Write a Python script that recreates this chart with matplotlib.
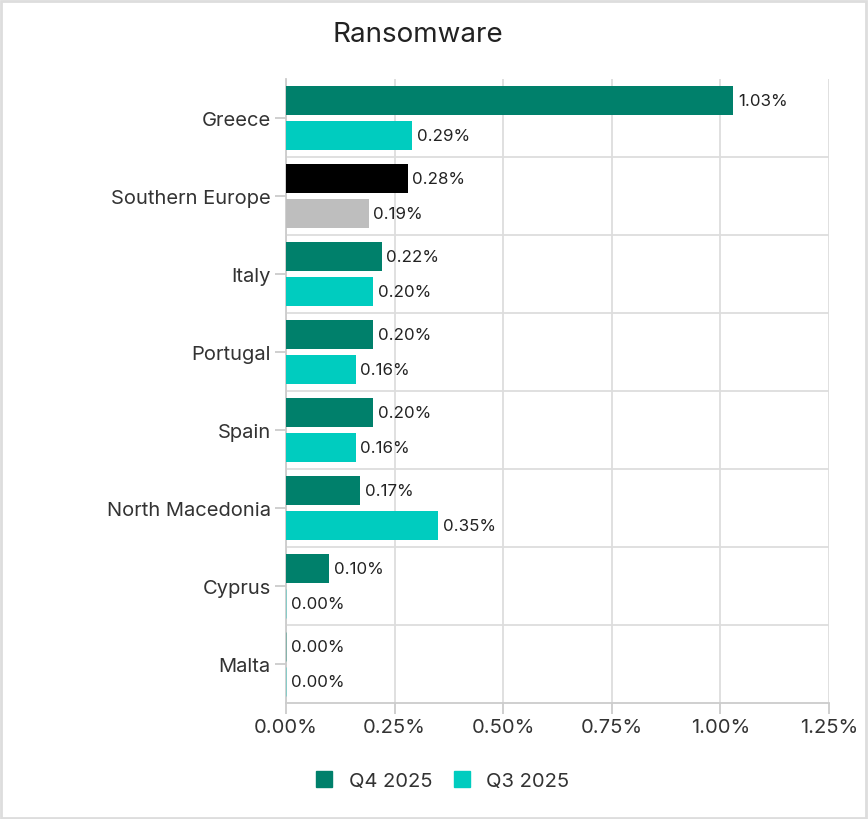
import matplotlib.pyplot as plt
import numpy as np
from matplotlib.patches import Rectangle
from matplotlib.lines import Line2D

plt.rcParams['font.family'] = ['Inter', 'DejaVu Sans']

countries = ["Greece", "Southern Europe", "Italy", "Portugal", "Spain",
             "North Macedonia", "Cyprus", "Malta"]
q4 = [1.03, 0.28, 0.22, 0.20, 0.20, 0.17, 0.10, 0.00]
q3 = [0.29, 0.19, 0.20, 0.16, 0.16, 0.35, 0.00, 0.00]
xticks = [0.0, 0.25, 0.5, 0.75, 1.0, 1.25]

c_q4 = "#00806B"
c_q3 = "#00CCBF"
highlight = "Southern Europe"

fig = plt.figure(figsize=(8.68, 8.2), dpi=100)
ax = fig.add_axes([286/868, 1-704/820, (829-286)/868, (704-80)/820])

n = len(countries)
y = np.arange(n)
h = 0.37
off = 0.225

for i, c in enumerate(countries):
    col4 = "black" if c == highlight else c_q4
    col3 = "#BEBEBE" if c == highlight else c_q3
    ax.barh(i - off, q4[i], height=h, color=col4, edgecolor=col4 if q4[i] == 0 else "none",
            linewidth=0.6, alpha=1 if q4[i] > 0 else 0.4, zorder=3)
    ax.barh(i + off, q3[i], height=h, color=col3, edgecolor=col3 if q3[i] == 0 else "none",
            linewidth=0.6, alpha=1 if q3[i] > 0 else 0.4, zorder=3)
    ax.annotate("{:.2f}%".format(q4[i]), (q4[i], i - off), xytext=(3.5, 0),
                textcoords="offset points", va="center", ha="left", fontsize=12.2, color="#222222")
    ax.annotate("{:.2f}%".format(q3[i]), (q3[i], i + off), xytext=(3.5, 0),
                textcoords="offset points", va="center", ha="left", fontsize=12.2, color="#222222")

ax.set_ylim(n - 0.5, -0.5)
ax.set_xlim(0, 1.25)
ax.set_yticks(y)
ax.set_yticklabels(countries, fontsize=14.5, color="#333333")
ax.set_xticks(xticks)
ax.set_xticklabels(["{:.2f}%".format(v) for v in xticks], fontsize=14.5, color="#333333")

# separators between categories
for k in range(1, n):
    ax.axhline(k - 0.5, color="#DDDDDD", linewidth=1.3, zorder=1)
ax.grid(axis="x", color="#DDDDDD", linewidth=1.3, zorder=1)

for s in ["top", "right"]:
    ax.spines[s].set_visible(False)
ax.spines["left"].set_color("#CCCCCC")
ax.spines["bottom"].set_color("#CCCCCC")
ax.spines["left"].set_linewidth(1.3)
ax.spines["bottom"].set_linewidth(1.3)
ax.tick_params(axis="both", colors="#CCCCCC", width=1.3, length=8, labelcolor="#333333")
ax.tick_params(axis="x", pad=3)
ax.tick_params(axis="y", pad=3)

fig.text(418/868, 1-35/820, "Ransomware", ha="center", va="center", fontsize=20, color="#222222")

handles = [Line2D([], [], marker="s", linestyle="none", markersize=11, color=c_q4),
           Line2D([], [], marker="s", linestyle="none", markersize=11, color=c_q3)]
fig.legend(handles, ["Q4 2025", "Q3 2025"], loc="center", bbox_to_anchor=(442/868, 1-782/820),
           ncol=2, frameon=False, fontsize=14.5, handlelength=1.0, handletextpad=0.7,
           columnspacing=1.0, labelcolor="#333333")

fig.patches.append(Rectangle((0.001, 0.001), 0.997, 0.997, transform=fig.transFigure,
                             fill=False, edgecolor="#DDDDDD", linewidth=2))

fig.savefig("out.png", dpi=100)
